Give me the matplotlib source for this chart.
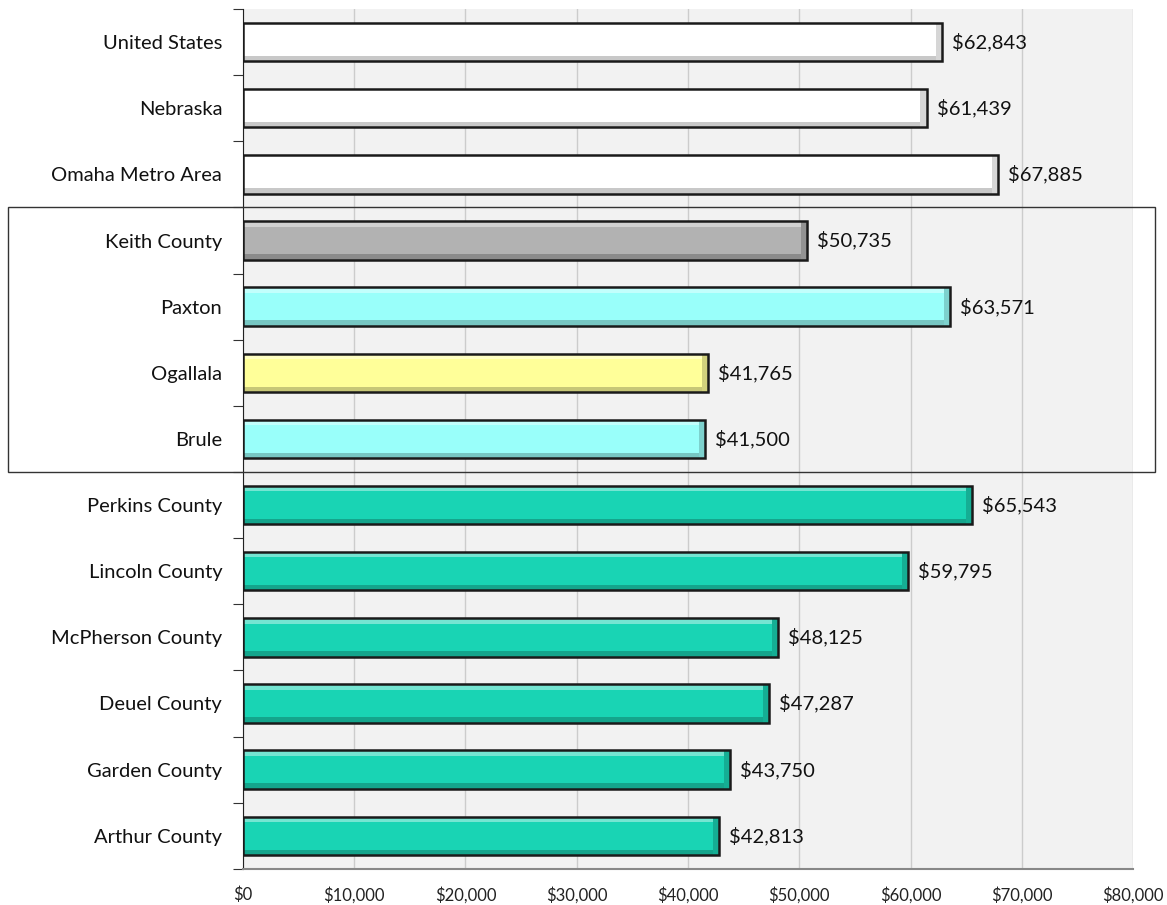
import matplotlib
matplotlib.use("Agg")
import matplotlib.pyplot as plt
import matplotlib.patches as mpatches
import matplotlib.transforms as mtransforms
import numpy as np

plt.rcParams['font.family'] = ['Lato', 'DejaVu Sans']

places = ["United States", "Nebraska", "Omaha Metro Area", "Keith County", "Paxton",
          "Ogallala", "Brule", "Perkins County", "Lincoln County", "McPherson County",
          "Deuel County", "Garden County", "Arthur County"]
incomes = [62843, 61439, 67885, 50735, 63571, 41765, 41500, 65543, 59795, 48125,
           47287, 43750, 42813]
bar_colors = ["#ffffff", "#ffffff", "#ffffff", "#b2b2b2", "#99fffa", "#ffff99", "#99fffa",
              "#19d4b4", "#19d4b4", "#19d4b4", "#19d4b4", "#19d4b4", "#19d4b4"]
x_ticks = [0, 10000, 20000, 30000, 40000, 50000, 60000, 70000, 80000]

fig = plt.figure(figsize=(11.67, 9.05), dpi=100, facecolor='white')
ax = fig.add_axes([0.2082, 0.040, 0.7627, 0.950])
ax.set_facecolor('#f2f2f2')

ypos = np.arange(len(places))
h = 0.58


def shade(c, f):
    rgb = np.array(matplotlib.colors.to_rgb(c))
    if f > 0:
        rgb = rgb + (1 - rgb) * f
    else:
        rgb = rgb * (1 + f)
    return tuple(rgb)


for y, v, c in zip(ypos, incomes, bar_colors):
    white = c == "#ffffff"
    ax.barh(y, v, height=h, color=c, edgecolor='none', zorder=3)
    # soft bevel: light top, darker bottom, darker right end
    band = 0.14 * h
    ax.barh(y - h / 2 + band / 2, v, height=band, color=shade(c, 0.4), edgecolor='none', zorder=4)
    ax.barh(y + h / 2 - band / 2, v, height=band,
            color="#c8c8c8" if white else shade(c, -0.22), edgecolor='none', zorder=4)
    ax.barh(y, 550, left=v - 550, height=h,
            color="#d6d6d6" if white else shade(c, -0.18), edgecolor='none', zorder=5)
    ax.barh(y, v, height=h, color='none', edgecolor='#1a1a1a', linewidth=1.8, zorder=6)
    ax.text(v + 900, y, f"${v:,}", va='center', ha='left', fontsize=14.5, color='#111111', zorder=7)

ax.set_xlim(0, 80000)
ax.set_ylim(len(places) - 0.5, -0.5)
ax.set_xticks(x_ticks)
ax.set_xticklabels([f"${t:,}" for t in x_ticks], fontsize=12, color='#222222')
ax.tick_params(axis='x', length=0, pad=13)
ax.grid(axis='x', color='#cccccc', linewidth=1, zorder=0)
ax.set_axisbelow(True)

ax.set_yticks(np.arange(-0.5, len(places), 1.0))
ax.set_yticklabels([])
ax.tick_params(axis='y', which='major', length=7, color='#333333')
ax.set_yticks(ypos, minor=True)
ax.set_yticklabels(places, minor=True, fontsize=14.5, color='#111111')
ax.tick_params(axis='y', which='minor', length=0, pad=15)

for s in ['top', 'right']:
    ax.spines[s].set_visible(False)
ax.spines['left'].set_color('#222222')
ax.spines['bottom'].set_color('#888888')
ax.spines['bottom'].set_linewidth(1.5)

# box around Keith County group
trans = mtransforms.blended_transform_factory(fig.transFigure, ax.transData)
box = mpatches.Rectangle((8 / 1167, 2.5), (1155 - 8) / 1167, 4.0, transform=trans,
                         fill=False, edgecolor='#333333', linewidth=1, clip_on=False, zorder=8)
fig.patches.append(box)

fig.savefig("out.png", dpi=100)
